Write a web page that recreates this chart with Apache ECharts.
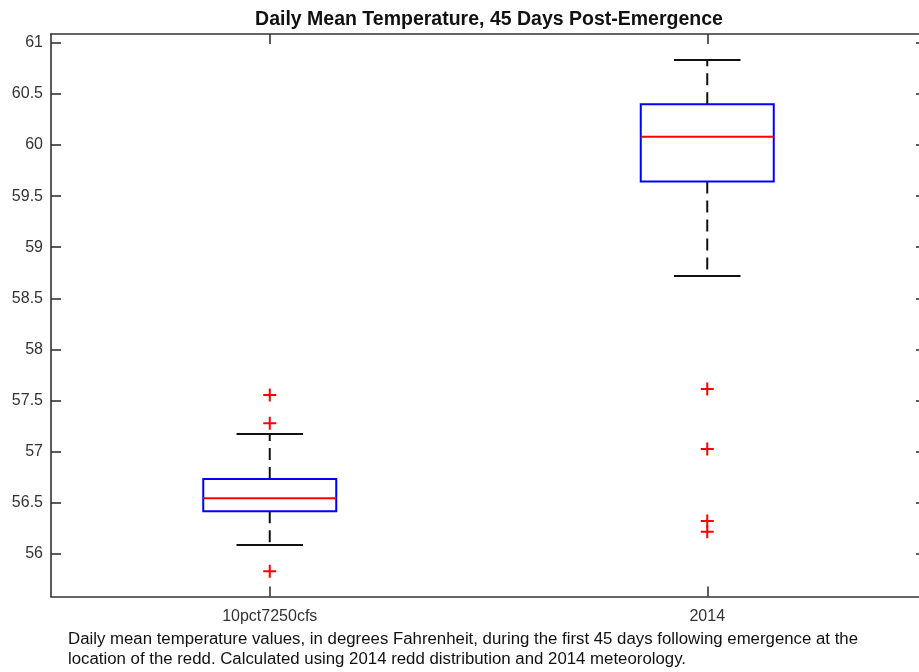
<!DOCTYPE html>
<html>
<head>
<meta charset="utf-8">
<script src="https://cdn.jsdelivr.net/npm/echarts@6/dist/echarts.min.js"></script>
<style>
html,body{margin:0;padding:0;background:#fff;}
#chart{width:919px;height:672px;}
</style>
</head>
<body>
<div id="chart"></div>
<script>
const categories = ['10pct7250cfs', '2014'];
const lowerWhisker = [56.088, 58.718];
const q1 = [56.418, 59.644];
const median = [56.546, 60.080];
const q3 = [56.733, 60.397];
const upperWhisker = [57.173, 60.830];
const outliers1 = [57.555, 57.278, 55.831];
const outliers2 = [57.613, 57.027, 56.323, 56.218];
const yTicks = [56, 56.5, 57, 57.5, 58, 58.5, 59, 59.5, 60, 60.5, 61];
const titleText = 'Daily Mean Temperature, 45 Days Post-Emergence';
const captionText = 'Daily mean temperature values, in degrees Fahrenheit, during the first 45 days following emergence at the\nlocation of the redd. Calculated using 2014 redd distribution and 2014 meteorology.';

const FONT = '"Liberation Sans", Arial, Helvetica, sans-serif';

const boxData = categories.map((c, i) => [i, lowerWhisker[i], q1[i], median[i], q3[i], upperWhisker[i]]);
const outlierData = [];
outliers1.forEach(v => outlierData.push([0, v]));
outliers2.forEach(v => outlierData.push([1, v]));

function renderItem(params, api) {
  const i = api.value(0);
  const band = api.size([1, 0])[0];
  const bw = band * 0.304;
  const cw = bw / 2;
  const pLow = api.coord([i, api.value(1)]);
  const pQ1 = api.coord([i, api.value(2)]);
  const pMed = api.coord([i, api.value(3)]);
  const pQ3 = api.coord([i, api.value(4)]);
  const pHigh = api.coord([i, api.value(5)]);
  const x = pMed[0];
  const wStyle = { stroke: '#111', lineWidth: 2, lineDash: [12, 7] };
  const cStyle = { stroke: '#111', lineWidth: 2 };
  return {
    type: 'group',
    children: [
      { type: 'line', shape: { x1: x, y1: pQ3[1], x2: x, y2: pHigh[1] }, style: wStyle },
      { type: 'line', shape: { x1: x, y1: pQ1[1], x2: x, y2: pLow[1] }, style: wStyle },
      { type: 'line', shape: { x1: x - cw / 2, y1: pHigh[1], x2: x + cw / 2, y2: pHigh[1] }, style: cStyle },
      { type: 'line', shape: { x1: x - cw / 2, y1: pLow[1], x2: x + cw / 2, y2: pLow[1] }, style: cStyle },
      { type: 'rect', shape: { x: x - bw / 2, y: pQ3[1], width: bw, height: pQ1[1] - pQ3[1] },
        style: { fill: 'none', stroke: '#0000ff', lineWidth: 2 } },
      { type: 'line', shape: { x1: x - bw / 2, y1: pMed[1], x2: x + bw / 2, y2: pMed[1] },
        style: { stroke: '#ff0000', lineWidth: 2 } }
    ]
  };
}

const axisLineStyle = { color: '#333', width: 1.6 };

const chart = echarts.init(document.getElementById('chart'), null, { renderer: 'canvas' });
chart.setOption({
  animation: false,
  backgroundColor: '#fff',
  textStyle: { fontFamily: FONT },
  title: {
    text: titleText,
    left: 484,
    textAlign: 'center',
    top: 5,
    textStyle: { fontFamily: FONT, fontWeight: 'bold', fontSize: 19.5, color: '#111' }
  },
  grid: { left: 51, top: 34, width: 875, height: 562.5, outerBoundsMode: 'none', containLabel: false },
  xAxis: [
    {
      type: 'category', data: categories, position: 'bottom', boundaryGap: true,
      axisLine: { show: true, lineStyle: axisLineStyle },
      axisTick: { show: true, inside: true, length: 10, alignWithLabel: true, lineStyle: axisLineStyle },
      axisLabel: { fontFamily: FONT, fontSize: 16, color: '#333', margin: 12 },
      splitLine: { show: false }
    },
    {
      type: 'category', data: categories, position: 'top', boundaryGap: true,
      axisLine: { show: true, lineStyle: axisLineStyle },
      axisTick: { show: true, inside: true, length: 10, alignWithLabel: true, lineStyle: axisLineStyle },
      axisLabel: { show: false },
      splitLine: { show: false }
    }
  ],
  yAxis: [
    {
      type: 'value', min: 55.585, max: 61.085, position: 'left',
      axisLine: { show: true, lineStyle: axisLineStyle },
      axisTick: { show: true, inside: true, length: 10, customValues: yTicks, lineStyle: axisLineStyle },
      axisLabel: { customValues: yTicks, fontFamily: FONT, fontSize: 16, color: '#333', margin: 8 },
      splitLine: { show: false }
    },
    {
      type: 'value', min: 55.585, max: 61.085, position: 'right',
      axisLine: { show: true, lineStyle: axisLineStyle },
      axisTick: { show: true, inside: true, length: 10, customValues: yTicks, lineStyle: axisLineStyle },
      axisLabel: { show: false },
      splitLine: { show: false }
    }
  ],
  graphic: [
    {
      type: 'text', x: 68, y: 630, scaleX: 1.05,
      style: { text: captionText, fontFamily: FONT, fontSize: 16, lineHeight: 20, fill: '#111' }
    }
  ],
  series: [
    {
      type: 'custom', name: 'box', xAxisIndex: 0, yAxisIndex: 0,
      renderItem: renderItem, data: boxData,
      encode: { x: 0, y: [1, 2, 3, 4, 5] }, z: 2
    },
    {
      type: 'scatter', name: 'outliers', xAxisIndex: 0, yAxisIndex: 0,
      data: outlierData,
      symbol: 'path://M0,5.5h13v2h-13z M5.5,0h2v13h-2z',
      symbolSize: 13,
      itemStyle: { color: '#ff0000', opacity: 1 }, z: 3
    }
  ]
});
</script>
</body>
</html>
